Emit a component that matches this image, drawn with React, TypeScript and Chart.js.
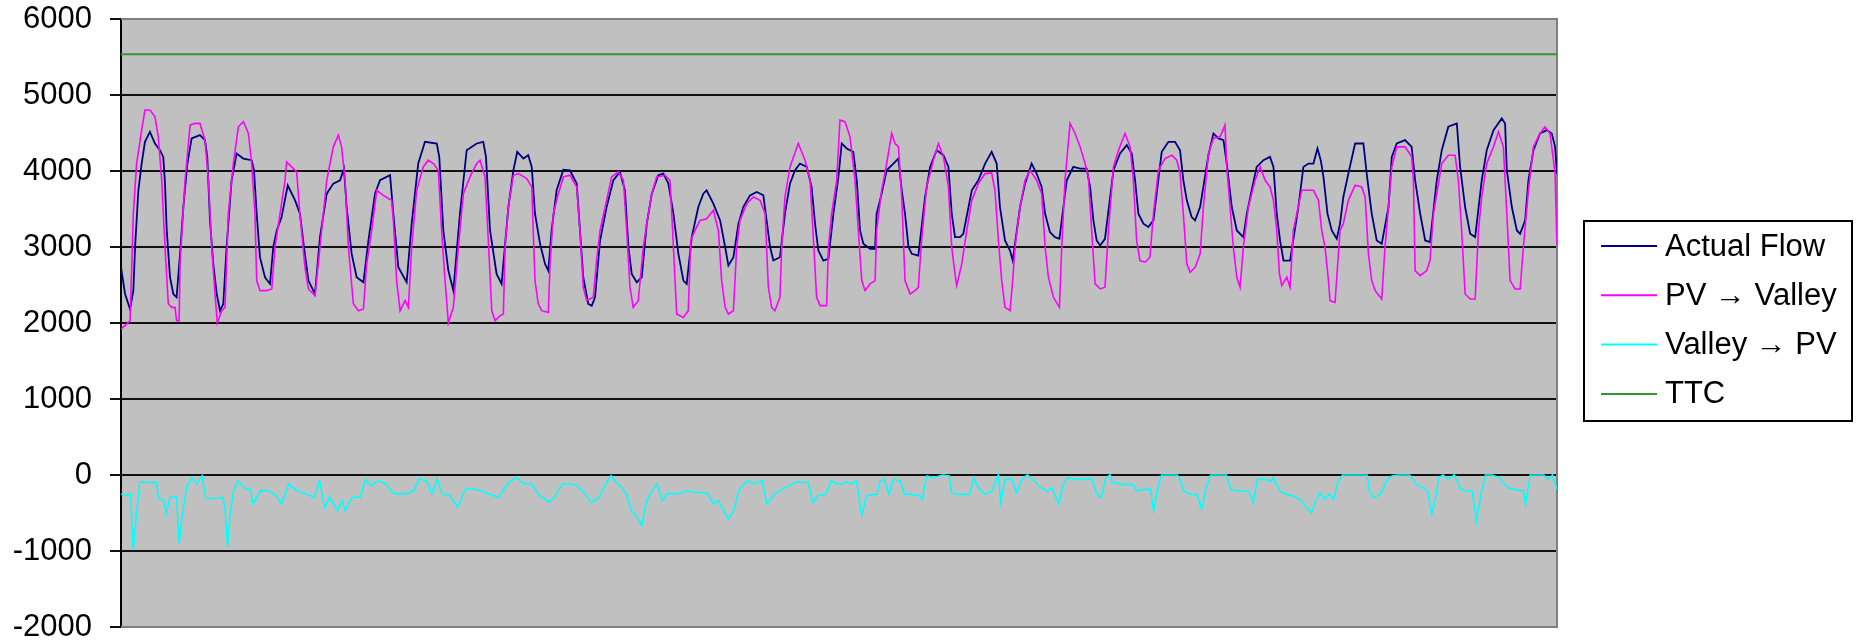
import React, { useEffect, useRef } from "react";
import { Chart, registerables } from "chart.js";

Chart.register(...registerables);

// Hours since start of month (x) and MW (y)
const actualFlow: [number, number][] = [
  [0, 2734], [2.1, 2382], [4.7, 2184], [6.4, 2426], [7.3, 3000], [9.0, 3746], [10.7, 4098], [12.4, 4384], [15.0, 4516], [17.6, 4362], [20.2, 4274], [21.9, 4186], [22.8, 3834], [23.7, 3218], [25.4, 2602], [27.1, 2382], [28.8, 2338],
  [30.6, 2910], [32.3, 3526], [34.4, 4098], [36.6, 4428], [40.9, 4472], [43.5, 4406], [44.7, 4186], [46.1, 3350], [47.8, 2778], [49.6, 2382], [51.3, 2162], [53.0, 2250],
  [54.7, 3000], [57.3, 3878], [59.9, 4230], [63.4, 4164], [67.7, 4142], [68.9, 4010], [70.3, 3438], [72.0, 2866], [74.6, 2602], [77.2, 2514],
  [78.9, 3000], [80.7, 3218], [83.2, 3394], [86.4, 3812], [90.2, 3614], [92.7, 3438], [94.8, 3000], [97.1, 2558], [100.5, 2382],
  [103.1, 3130], [106.6, 3702], [110, 3834], [113.5, 3878], [115.5, 4032], [116.9, 3526], [119.5, 2910], [122.1, 2602], [125.6, 2536],
  [128.2, 3086], [131.6, 3702], [134.2, 3878], [139.4, 3944], [141.1, 3438], [143.7, 2734], [148, 2536],
  [150.6, 3306], [154, 4098], [157.5, 4384], [163.6, 4362], [164.9, 4186], [167, 3218], [169.6, 2690], [172.2, 2426],
  [175.6, 3438], [179.1, 4274], [184.3, 4362], [187.7, 4384], [189.1, 4186], [191.2, 3218], [194.6, 2646], [197.2, 2514],
  [200.7, 3526], [203.3, 4010], [205.3, 4252], [208.5, 4164], [211, 4208], [212.8, 4054], [214.5, 3438], [217.1, 3042], [219.7, 2778], [221.4, 2690],
  [223.1, 3218], [225.7, 3746], [229.2, 4018], [232.6, 4010], [236.1, 3834], [237.8, 3218], [239.5, 2602], [242.1, 2250], [243.9, 2228], [245.6, 2338],
  [248.2, 3086], [251.6, 3526], [255.1, 3878], [258.5, 3988], [261.1, 3746], [262.9, 3000], [264.6, 2646], [267.2, 2536], [269.8, 2602],
  [272.4, 3306], [275, 3702], [278.4, 3944], [281, 3966], [283.6, 3834], [286.2, 3438], [288.8, 2910], [291.4, 2558], [293.1, 2514],
  [295.7, 3130], [299.1, 3526], [301.7, 3702], [303.4, 3746], [306.9, 3570], [310.4, 3350], [313, 3000], [314.7, 2756], [317.3, 2866],
  [319.9, 3306], [322.4, 3526], [325.9, 3680], [329.4, 3724], [332.8, 3680], [334.5, 3350], [336.3, 3000], [338, 2822], [341.4, 2866],
  [344, 3438], [346.6, 3834], [349.2, 4010], [351.8, 4098], [355.3, 4054], [357.8, 3790], [359.6, 3306], [361.3, 2954], [363.9, 2822], [366.5, 2844],
  [369.1, 3438], [371.7, 3922], [373.4, 4362], [376, 4296], [379.4, 4252], [381.2, 3878], [382.9, 3218], [384.6, 3042], [388.1, 2976], [390.7, 2976],
  [391.5, 3438], [394.1, 3702], [396.7, 4010], [400.2, 4098], [402.8, 4164], [404.5, 3746], [406.2, 3438], [408, 3000], [409.7, 2910], [413.1, 2888],
  [416.6, 3658], [419.2, 4054], [422.6, 4274], [426.1, 4208], [428.7, 4054], [430.4, 3438], [432.1, 3130], [434.7, 3130], [436.4, 3174],
  [440.8, 3746], [444.2, 3878], [447.7, 4098], [451.1, 4252], [453.7, 4098], [455.4, 3526], [458, 3086], [460.6, 2954], [462, 2822],
  [465.8, 3526], [468.4, 3834], [471.8, 4098], [474.4, 3966], [477, 3790], [478.8, 3438], [481.3, 3196], [483.9, 3130], [486.2, 3108],
  [490, 3878], [493.4, 4054], [496.9, 4032], [500.3, 4032], [502.1, 3790], [503.8, 3350], [505.5, 3086], [507.3, 3020], [509.8, 3108],
  [514.2, 4010], [517.6, 4230], [521.1, 4340], [523.7, 4230], [525.4, 3878], [527.1, 3438], [529.7, 3306], [532.3, 3262], [534.9, 3350],
  [539.2, 4252], [542.7, 4384], [546.1, 4384], [548.7, 4274], [550.4, 3878], [552.2, 3614], [554.7, 3394], [556.5, 3350], [559.1, 3526],
  [563.4, 4208], [566, 4494], [568.6, 4428], [571.2, 4406], [572.9, 4098], [575.5, 3526], [578.1, 3218], [581.5, 3130],
  [583.3, 3438], [585.8, 3746], [588.4, 4054], [591.9, 4142], [595.3, 4186], [597.1, 4054], [598.8, 3438], [600.5, 3086], [602.3, 2822], [605.7, 2822],
  [610, 3526], [612.6, 4054], [615.2, 4098], [617.8, 4098], [619.9, 4296], [621.6, 4142], [623, 3922], [625.1, 3438], [627.3, 3218], [629.9, 3108], [631.6, 3306],
  [633.3, 3658], [635.9, 3966], [639.4, 4362], [643.7, 4362], [645.4, 3966], [648, 3438], [650.6, 3086], [653.2, 3042],
  [656.7, 3526], [658.4, 4186], [661, 4362], [665.3, 4406], [668.7, 4318], [670.5, 3878], [673.1, 3438], [675.7, 3086], [678.2, 3064],
  [681.7, 3878], [684.3, 4274], [687.7, 4582], [692.1, 4626], [693.8, 4054], [696.4, 3526], [699, 3174], [701.6, 3130],
  [705, 3878], [707.6, 4274], [711.1, 4538], [715.4, 4692], [717.1, 4626], [718, 4010], [720.6, 3526], [723.2, 3218], [724.9, 3174], [727.5, 3350],
  [729.2, 3878], [731.8, 4274], [735.2, 4494], [738.7, 4538], [741.3, 4494], [743, 4318], [744, 3966],
];

const pvToValley: [number, number][] = [
  [0, 1920], [2.9, 1986], [4.7, 2030], [6.4, 3438], [8.1, 4098], [10.7, 4538], [12.4, 4802], [15, 4802], [17.6, 4714], [19.3, 4450], [21.1, 3878], [22.8, 3000], [24.5, 2250], [26.3, 2206], [28, 2206], [28.8, 2030], [30.1, 2030],
  [30.6, 2778], [33.2, 3878], [35.8, 4604], [38.3, 4626], [40.9, 4626], [43.5, 4406], [45.3, 3878], [47, 3000], [48.7, 2382], [49.9, 2000], [52.2, 2162], [53.9, 2206],
  [55.6, 3438], [58.2, 4098], [60.8, 4582], [63.4, 4648], [66, 4494], [67.7, 4098], [69.4, 3438], [70.3, 2558], [72, 2426], [75.5, 2426], [78.1, 2448],
  [79.8, 3000], [82.4, 3438], [85, 3878], [85.8, 4120], [88.4, 4054], [91, 3988], [92.7, 3438], [95.3, 2734], [97.1, 2448], [100.5, 2360],
  [103.1, 3000], [106.6, 3878], [110, 4318], [112.6, 4472], [114.3, 4318], [116.1, 3878], [117.8, 3000], [120.4, 2250], [123, 2162], [125.6, 2184],
  [127.3, 2778], [129.9, 3218], [132.5, 3746], [135.9, 3680], [140.2, 3614], [141.1, 3350], [142.8, 2558], [144.6, 2162], [147.2, 2294], [148.9, 2206],
  [150.6, 3000], [153.2, 3746], [156.6, 4054], [159.2, 4142], [161.8, 4098], [164.4, 4010], [166.1, 3218], [167.9, 2558], [169.6, 2000], [172.2, 2206],
  [174.8, 3000], [177.4, 3702], [180.8, 3922], [184.3, 4098], [186, 4142], [188.6, 3922], [190.3, 3086], [192.1, 2162], [193.8, 2030], [196.4, 2096], [198.1, 2118], [199, 3000],
  [200.7, 3526], [203.3, 3944], [205.9, 3966], [210.2, 3900], [212.8, 3790], [214.5, 2558], [216.2, 2250], [218, 2162], [221.4, 2140], [222.3, 2778],
  [224, 3438], [226.6, 3702], [229.2, 3922], [232.6, 3944], [236.1, 3790], [237.8, 3218], [239.5, 2470], [241.3, 2294], [244.7, 2338], [246.4, 2822],
  [248.2, 3218], [251.6, 3614], [254.2, 3922], [257.7, 3988], [260.3, 3878], [262, 3218], [263.7, 2470], [265.4, 2206], [268, 2294], [270.6, 3000],
  [272.4, 3306], [275, 3702], [277.5, 3922], [281.9, 3944], [284.4, 3878], [285.8, 3218], [287.9, 2118], [291.4, 2074], [293.9, 2162], [295.2, 3086],
  [297.4, 3218], [300, 3350], [303.4, 3372], [306.9, 3482], [309.5, 3218], [311.2, 2558], [313, 2206], [314.7, 2118], [317.3, 2162], [319, 3000],
  [320.7, 3350], [324.2, 3570], [327.6, 3658], [331.1, 3614], [333.7, 3438], [335.4, 2470], [337.1, 2206], [338.8, 2162], [341.4, 2338], [342.3, 3000],
  [344, 3658], [346.6, 4054], [350.9, 4362], [354.4, 4142], [357, 3878], [358.7, 3130], [360.4, 2338], [362.2, 2228], [365.6, 2228], [366.5, 3000],
  [368.2, 3438], [370.8, 3878], [372.5, 4670], [375.1, 4648], [377.7, 4450], [380.3, 3878], [382, 3218], [383.8, 2558], [385.5, 2426], [388.1, 2514], [390.7, 2558],
  [391.5, 3218], [394.1, 3746], [396.7, 4098], [399.3, 4494], [401, 4362], [402.8, 4318], [404.5, 3658], [406.2, 2558], [408.8, 2382], [411.4, 2426], [413.1, 2470], [414.8, 3086],
  [417.4, 3790], [420.9, 4142], [423.5, 4362], [426.1, 4186], [428.7, 3790], [430.4, 3000], [432.1, 2646], [433, 2492], [435.6, 2778], [438.2, 3218],
  [440.8, 3614], [444.2, 3834], [447.7, 3966], [451.1, 3974], [452.8, 3746], [454.6, 3086], [456.3, 2558], [458, 2206], [460.6, 2162], [462, 2558], [463.2, 3000],
  [465.8, 3526], [468.4, 3878], [471, 4010], [474.4, 3878], [477, 3702], [478.8, 3000], [480.5, 2602], [483.1, 2338], [486.2, 2206], [487.4, 3000],
  [489.1, 3878], [491.7, 4626], [494.3, 4494], [496.9, 4318], [499.5, 4098], [501.2, 3922], [502.9, 3218], [504.7, 2514], [507.3, 2448], [509.8, 2470], [511.6, 3218],
  [514.2, 4054], [516.8, 4274], [520.2, 4494], [522.8, 4318], [524.5, 3878], [526.2, 3086], [527.9, 2822], [530.6, 2800], [533.1, 2866], [534.9, 3438],
  [537.5, 4010], [540.9, 4164], [544.4, 4208], [547, 4142], [548.7, 3966], [550.4, 3438], [552.2, 2778], [553.9, 2668], [556.5, 2734], [559.1, 2910], [560.8, 3526],
  [563.4, 4230], [566, 4428], [569.4, 4450], [572, 4604], [572.9, 4054], [574.6, 3526], [576.3, 3000], [578.1, 2602], [579.8, 2470],
  [581.5, 3000], [584.1, 3526], [587.6, 3878], [590.2, 4054], [592.8, 3878], [595.3, 3790], [597.1, 3614], [598.8, 3218], [600.2, 2646], [601.4, 2492], [604, 2602], [605.7, 2470], [607.4, 3218],
  [609.2, 3438], [611.7, 3746], [615.2, 3746], [617.8, 3746], [620.4, 3614], [622.1, 3218], [623.8, 3000], [625.6, 2558], [626.4, 2294], [629, 2272], [631.6, 3218],
  [633.3, 3306], [635.9, 3614], [639.4, 3812], [642.8, 3790], [644.6, 3658], [646.3, 2910], [648, 2558], [649.8, 2426], [653.2, 2316], [654.9, 3000],
  [656.7, 3526], [658.4, 4054], [661, 4318], [665.3, 4318], [668.7, 4186], [669.6, 3878], [670.5, 2690], [673.1, 2624], [676.5, 2690], [678.2, 2822], [680, 3438],
  [681.7, 3702], [684.3, 4098], [687.7, 4208], [691.2, 4208], [692.9, 3878], [694.6, 3218], [696.4, 2382], [699, 2316], [701.6, 2316], [703.3, 3218],
  [705, 3658], [707.6, 4098], [711.1, 4318], [713.7, 4516], [716.2, 4318], [718, 3438], [719.7, 2558], [722.3, 2448], [724.9, 2448], [726.6, 3000],
  [729.2, 3746], [731.8, 4318], [735.2, 4494], [737.8, 4582], [740.4, 4494], [743, 3966], [744, 3020],
];

const valleyToPv: [number, number][] = [
  [0, -249], [2.3, -271], [5, -249], [6.3, -988], [7.6, -642], [9.7, -96], [14.2, -96], [18.2, -96], [19.5, -293], [22.1, -336], [23.5, -511], [25.3, -293], [28.8, -293], [30.1, -905], [31.4, -599], [34, -162], [36.7, -31], [39.4, -118], [42, -9], [43.9, -293], [46, -315],
  [52.6, -293], [53.9, -424], [55.2, -948], [56.5, -511], [58.4, -205], [60.5, -74], [64.5, -184], [67.1, -184], [68.4, -380], [72.4, -205], [76.4, -205], [80.4, -271], [83.1, -380], [87.1, -118], [91, -205], [93.6, -227], [97.5, -271],
  [100.2, -293], [102.8, -74], [105.5, -424], [108.1, -293], [112.1, -467], [114.7, -336], [116, -467], [120, -293], [124, -293], [126.7, -52], [129.3, -140], [133.3, -74], [137.3, -118], [141.3, -249], [143.9, -249], [147.9, -249],
  [151.8, -205], [154.5, -52], [158.4, -74], [161.1, -249], [163.8, -52], [166.4, -249], [170.4, -271], [174.4, -424], [178.4, -184], [182.3, -184], [186.3, -205], [190.3, -249], [195.6, -293],
  [200.9, -96], [204.8, -31], [208.8, -118], [212.8, -118], [216.8, -271], [222.1, -358], [224.7, -293], [228.7, -118], [232.7, -118], [236.6, -140], [240.6, -249], [243.3, -358], [247.2, -315],
  [251.2, -118], [253.9, -9], [256.5, -96], [259.2, -162], [261.8, -249], [264.5, -467], [268.5, -599], [269.8, -664], [272.4, -336], [275.1, -205], [277.7, -118], [280.4, -336], [283, -249], [288.3, -249], [293.6, -205], [296.3, -227],
  [300.3, -227], [304.2, -249], [306.9, -380], [309.5, -336], [312.2, -467], [314.8, -577], [317.5, -467], [320.1, -205], [322.8, -118], [325.4, -74], [328.1, -118], [332.1, -74], [334.7, -380], [338.7, -249], [341.4, -205],
  [349.3, -96], [355.9, -96], [358.6, -358], [361.2, -271], [365.2, -249], [367.9, -74], [370.5, -118], [373.2, -118], [375.8, -96], [378.5, -118], [381.1, -74], [383.8, -533], [386.4, -271], [391.7, -249],
  [393.3, -79], [395.6, -57], [397.9, -255], [400.2, -57], [403.7, -79], [406, -255], [409.5, -255], [414.1, -277], [415.3, -320], [416.4, -123], [417.6, -13], [421.1, -35], [425.7, 0], [429.2, -13], [430.3, -233], [433.8, -255],
  [439.6, -255], [441.9, -35], [444.2, -167], [447.7, -255], [451.2, -211], [454.6, 0], [455.8, -364], [458.1, -57], [461.6, -57], [463.9, -233], [467.4, -35], [469.7, 0], [473.2, -79], [476.6, -167], [480.1, -211], [482.4, -167],
  [485.9, -386], [488.2, -123], [490.5, -35], [495.2, -57], [499.8, -57], [503.2, -57], [505.6, -255], [507.9, -299], [510.2, -35], [512.5, 0], [513.7, -101], [519.5, -123], [524.1, -123], [526.4, -211], [529.9, -189], [533.4, -189],
  [535, -474], [536.8, -211], [539.1, 0], [542.6, 0], [547.2, 0], [548.4, -35], [550.7, -211], [554.2, -255], [557.6, -255], [559.9, -452], [562.3, -167], [564.6, 0], [569.2, 0], [572.7, 0], [575, -189], [578.5, -211],
  [581.9, -211], [584.3, -211], [586.6, -364], [588.9, -57], [592.4, -57], [595.8, -79], [597, -35], [600.5, -211], [603.9, -255], [607.4, -277], [610.9, -320], [614.4, -430], [616.7, -496], [619, -342], [621.3, -233],
  [623.6, -320], [625.9, -255], [628.3, -320], [630.6, -79], [632.9, 0], [638.7, 0], [645.6, 0], [646.8, -211], [649.1, -299], [652.6, -255], [656.1, -57], [658.4, -13], [661.8, 0], [667.6, 0], [668.8, -35], [671.1, -123],
  [674.6, -167], [676.9, -211], [679.2, -518], [681.5, -255], [682.7, -35], [685, 0], [687.3, -57], [690.8, 0], [694.2, -189], [697.7, -211], [700, -211], [702.3, -606], [704.6, -255], [706.9, 0], [710.4, 0],
  [713.9, -35], [716.2, -101], [718.6, -167], [722, -189], [726.7, -211], [727.8, -386], [730.1, 0], [733.6, 0], [737.1, 0], [739.4, -57], [741.7, 0], [744, -189],
];

const ttc: [number, number][] = [[0, 5535], [744, 5535]];

const seriesLabels = ["Actual Flow", "PV \u2192 Valley", "Valley \u2192 PV", "TTC"];
const seriesColors = ["#000080", "#FF00FF", "#00FFFF", "#2E9A2E"];
const yMin = -2000;
const yMax = 6000;
const yStep = 1000;
const hoursInMonth = 744;

const FONT = '"Liberation Sans", Arial, sans-serif';

export default function App() {
  const canvasRef = useRef<HTMLCanvasElement | null>(null);

  useEffect(() => {
    const canvas = canvasRef.current;
    if (!canvas) return;

    const toXY = (arr: [number, number][]) => arr.map(([x, y]) => ({ x, y }));

    const plotBg = {
      id: "plotBg",
      beforeDraw(chart: any) {
        const { ctx, chartArea: a } = chart;
        ctx.save();
        ctx.fillStyle = "#ffffff";
        ctx.fillRect(0, 0, chart.width, chart.height);
        ctx.fillStyle = "#C0C0C0";
        ctx.fillRect(a.left, a.top, a.right - a.left, a.bottom - a.top);
        ctx.restore();
      },
      beforeDatasetsDraw(chart: any) {
        const { ctx, chartArea: a } = chart;
        ctx.save();
        ctx.strokeStyle = "#808080";
        ctx.lineWidth = 2;
        ctx.beginPath();
        ctx.moveTo(a.left, a.top);
        ctx.lineTo(a.right, a.top);
        ctx.lineTo(a.right, a.bottom);
        ctx.lineTo(a.left, a.bottom);
        ctx.stroke();
        ctx.restore();
      },
    };

    const boxLegend = {
      id: "boxLegend",
      afterDraw(chart: any) {
        const { ctx } = chart;
        const left = 1584, top = 221, w = 268, h = 200;
        ctx.save();
        ctx.fillStyle = "#ffffff";
        ctx.fillRect(left, top, w, h);
        ctx.strokeStyle = "#000000";
        ctx.lineWidth = 2;
        ctx.strokeRect(left, top, w, h);
        ctx.font = `31px ${FONT}`;
        ctx.textBaseline = "middle";
        ctx.textAlign = "left";
        seriesLabels.forEach((label, i) => {
          const y = 246 + i * 49.3;
          ctx.strokeStyle = seriesColors[i];
          ctx.lineWidth = 2;
          ctx.beginPath();
          ctx.moveTo(1601, y);
          ctx.lineTo(1657, y);
          ctx.stroke();
          ctx.fillStyle = "#000000";
          ctx.fillText(label, 1665, y + 1);
        });
        ctx.restore();
      },
    };

    const chart = new Chart(canvas, {
      type: "line",
      data: {
        datasets: [
          { label: seriesLabels[0], data: toXY(actualFlow), borderColor: seriesColors[0], borderWidth: 1.8, pointRadius: 0, order: 2 },
          { label: seriesLabels[1], data: toXY(pvToValley), borderColor: seriesColors[1], borderWidth: 1.6, pointRadius: 0, order: 1 },
          { label: seriesLabels[2], data: toXY(valleyToPv), borderColor: seriesColors[2], borderWidth: 1.6, pointRadius: 0, order: 3 },
          { label: seriesLabels[3], data: toXY(ttc), borderColor: seriesColors[3], borderWidth: 2, pointRadius: 0, order: 0 },
        ],
      },
      options: {
        animation: false,
        responsive: false,
        maintainAspectRatio: false,
        events: [],
        layout: { padding: { top: 19, bottom: 15, left: 0, right: 303 } },
        scales: {
          x: { type: "linear", min: 0, max: hoursInMonth, display: false },
          y: {
            min: yMin,
            max: yMax,
            ticks: {
              stepSize: yStep,
              padding: 18,
              color: "#000000",
              font: { family: FONT, size: 31, lineHeight: 1 },
              callback: (v: any) => String(v),
            },
            grid: {
              color: (c: any) =>
                c.tick && (c.tick.value === yMax || c.tick.value === yMin) ? "rgba(0,0,0,0)" : "#111111",
              lineWidth: 2,
              tickLength: 11,
              tickColor: "#111111",
              tickWidth: 2,
            },
            border: { display: true, color: "#000000", width: 2 },
            afterFit: (s: any) => {
              s.width = 121;
              s.paddingTop = 0;
              s.paddingBottom = 0;
            },
          },
        },
        plugins: { legend: { display: false }, tooltip: { enabled: false } },
      },
      plugins: [plotBg, boxLegend],
    } as any);

    return () => chart.destroy();
  }, []);

  return (
    <div style={{ position: "fixed", left: 0, top: 0, width: 1860, height: 642, background: "#fff" }}>
      <canvas ref={canvasRef} width={1860} height={642} style={{ width: 1860, height: 642, display: "block" }} />
    </div>
  );
}
